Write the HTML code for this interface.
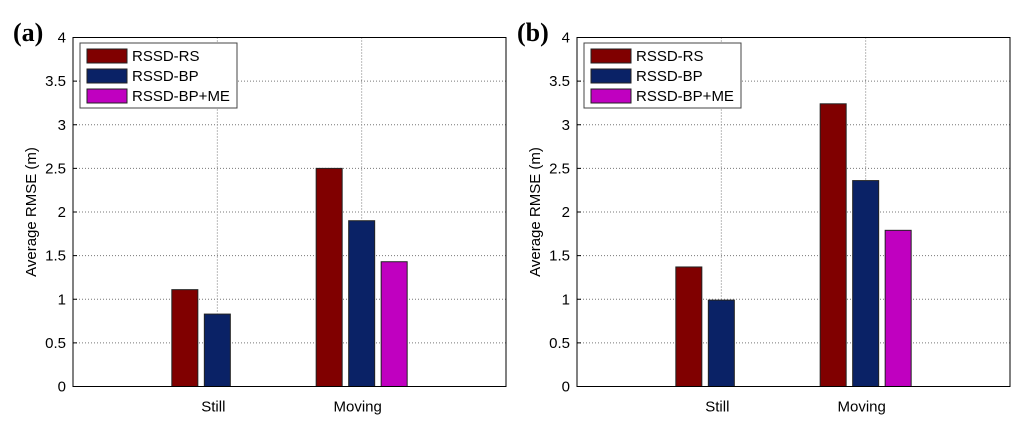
<!DOCTYPE html>
<html><head><meta charset="utf-8"><style>
body{margin:0;background:#fff;width:1024px;height:426px;overflow:hidden}
svg{display:block}
text{font-family:"Liberation Sans",sans-serif;fill:#000}
</style></head><body>
<svg id="chart" width="1024" height="426" viewBox="0 0 1024 426" xmlns="http://www.w3.org/2000/svg"></svg>
<script>
const categories = ["Still", "Moving"];
const seriesNames = ["RSSD-RS", "RSSD-BP", "RSSD-BP+ME"];
const seriesColors = ["#800000", "#0a2266", "#c000c0"];
const panelLabels = ["(a)", "(b)"];
const panelARS = [1.11, 2.5];
const panelABP = [0.83, 1.9];
const panelAME = [0, 1.43];
const panelBRS = [1.37, 3.24];
const panelBBP = [0.99, 2.36];
const panelBME = [0, 1.79];
const yTicks = [0, 0.5, 1, 1.5, 2, 2.5, 3, 3.5, 4];
const yTickLabels = ["0", "0.5", "1", "1.5", "2", "2.5", "3", "3.5", "4"];

const svg = document.getElementById('chart');
const NS = 'http://www.w3.org/2000/svg';
function mk(tag, attrs, parent) {
  const e = document.createElementNS(NS, tag);
  for (const k in attrs) e.setAttribute(k, attrs[k]);
  (parent || svg).appendChild(e);
  return e;
}
const plotTop = 37.5, plotBottom = 386.5, W = 433;
function drawPanel(ox, label, data, pname) {
  const g = mk('g', {});
  
  
  const xS = v => ox + v / 3 * W;
  const yS = v => plotBottom - v / 4 * (plotBottom - plotTop);
  mk('rect', {x: ox, y: plotTop, width: W, height: plotBottom - plotTop, fill: '#fff'}, g);
  yTicks.forEach((t, i) => {
    if (t > 0 && t < 4) {
      const l = mk('line', {x1: ox, x2: ox + W, y1: yS(t), y2: yS(t), stroke: '#777', 'stroke-width': 1, 'stroke-dasharray': '1,2'}, g);
      
      
    }
    const tl = mk('line', {x1: ox, x2: ox + 4, y1: yS(t), y2: yS(t), stroke: '#000'}, g);
    
    
    const tx = mk('text', {x: ox - 7, y: yS(t) + 5, 'text-anchor': 'end', 'font-size': 15}, g);
    tx.textContent = yTickLabels[i];
    
    
  });
  categories.forEach((c, i) => {
    const x = xS(i + 1);
    const gl = mk('line', {x1: x, x2: x, y1: plotTop, y2: plotBottom, stroke: '#777', 'stroke-dasharray': '1,2'}, g);
    
    
    const t = mk('text', {x: x - 4, y: plotBottom + 25, 'text-anchor': 'middle', 'font-size': 15}, g);
    t.textContent = c;
    
    
  });
  const bw = 26, step = 32.5;
  data.forEach((series, s) => {
    series.forEach((v, i) => {
      if (v <= 0) return;
      const cx = xS(i + 1) + (s - 1) * step;
      const r = mk('rect', {x: cx - bw / 2, y: yS(v), width: bw, height: yS(0) - yS(v), fill: seriesColors[s], stroke: '#222', 'stroke-width': 1}, g);
      
      
    });
  });
  mk('rect', {x: ox, y: plotTop, width: W, height: plotBottom - plotTop, fill: 'none', stroke: '#000', 'stroke-width': 1}, g);
  const yt = mk('text', {x: 0, y: 0, 'text-anchor': 'middle', 'font-size': 15, transform: `translate(${ox - 37},${(plotTop + plotBottom) / 2}) rotate(-90)`}, g);
  yt.textContent = 'Average RMSE (m)';
  
  
  const lg = mk('g', {}, g);
  
  
  mk('rect', {x: ox + 7, y: 43, width: 157, height: 65, fill: '#fff', stroke: '#444'}, lg);
  seriesNames.forEach((n, s) => {
    const y = 49 + s * 20;
    const e = mk('g', {}, lg);
    
    
    mk('rect', {x: ox + 14, y: y, width: 40, height: 14, fill: seriesColors[s], stroke: '#222'}, e);
    const t = mk('text', {x: ox + 59, y: y + 12, 'font-size': 15}, e);
    t.textContent = n;
  });
  const pl = mk('text', {x: ox - 60, y: 41, 'font-size': 26, 'font-weight': 'bold', style: 'font-family:"Liberation Serif",serif'}, g);
  pl.textContent = label;
  
  
}
drawPanel(73, panelLabels[0], [panelARS, panelABP, panelAME], 'panel-a');
drawPanel(577, panelLabels[1], [panelBRS, panelBBP, panelBME], 'panel-b');
</script>
</body></html>
